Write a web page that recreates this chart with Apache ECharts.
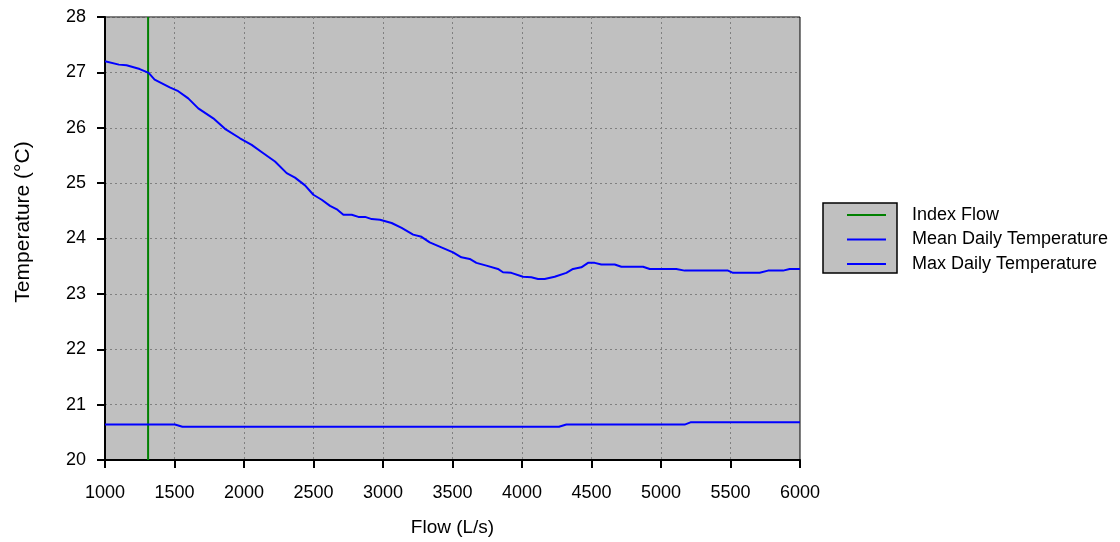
<!DOCTYPE html>
<html><head><meta charset="utf-8">
<script src="https://cdn.jsdelivr.net/npm/echarts@6/dist/echarts.min.js"></script>
<style>html,body{margin:0;padding:0;background:#fff}#c{width:1120px;height:542px}</style>
</head><body><div id="c"></div>
<script>
const indexFlow = 1310;
const meanFlow = [1000,1100,1155,1250,1314,1357,1466,1527,1599,1671,1779,1863,1971,2055,2139,2223,2307,2367,2439,2499,2559,2619,2672,2715,2775,2823,2871,2919,2978,3062,3134,3217,3277,3336,3420,3504,3564,3624,3672,3744,3827,3863,3923,4007,4067,4115,4163,4235,4319,4367,4427,4475,4523,4571,4667,4715,4871,4919,5110,5170,5482,5518,5710,5770,5878,5926,6000];
const meanTemp = [27.20,27.14,27.13,27.06,26.99,26.87,26.73,26.66,26.53,26.35,26.17,25.98,25.81,25.69,25.54,25.39,25.18,25.10,24.96,24.79,24.70,24.59,24.52,24.43,24.43,24.39,24.39,24.35,24.34,24.28,24.19,24.07,24.03,23.93,23.84,23.75,23.66,23.63,23.56,23.51,23.45,23.39,23.38,23.31,23.30,23.27,23.27,23.31,23.38,23.45,23.48,23.56,23.56,23.53,23.53,23.49,23.49,23.45,23.45,23.42,23.42,23.38,23.38,23.42,23.42,23.45,23.45];
const maxFlow = [1000,1503,1557,4266,4319,5170,5212,6000];
const maxTemp = [20.64,20.64,20.60,20.60,20.64,20.64,20.68,20.68];
const seriesNames = ['Index Flow','Mean Daily Temperature','Max Daily Temperature'];

const font = 'Arial, "Liberation Sans", sans-serif';
const chart = echarts.init(document.getElementById('c'));
const axisCommon = {
  axisLine:{show:true,lineStyle:{color:'#000',width:2}},
  axisTick:{show:true,inside:false,length:8,lineStyle:{color:'#000',width:2}},
  splitLine:{show:true,lineStyle:{color:'#808080',type:[2,3],width:1}},
  axisLabel:{color:'#000',fontFamily:font,fontSize:18,formatter:v=>String(v)},
  nameTextStyle:{color:'#000',fontFamily:font,fontSize:19}
};
chart.setOption({
  animation:false,
  grid:{left:105,right:320,top:17,bottom:80,show:true,backgroundColor:'#c0c0c0',borderColor:'#000',borderWidth:1},
  xAxis:Object.assign({},axisCommon,{type:'value',min:1000,max:6000,interval:500,name:'Flow (L/s)',nameLocation:'middle',nameGap:58,
    axisLabel:Object.assign({},axisCommon.axisLabel,{margin:24})}),
  yAxis:Object.assign({},axisCommon,{type:'value',min:20,max:28,interval:1,name:'Temperature (°C)',nameLocation:'middle',nameGap:71,
    nameTextStyle:Object.assign({},axisCommon.nameTextStyle,{fontSize:21,padding:[0,0,0,33]}),
    axisLabel:Object.assign({},axisCommon.axisLabel,{margin:19})}),
  legend:{orient:'vertical',left:842,top:201,itemWidth:39,itemHeight:12,itemGap:6.5,z:10,
    icon:'path://M0,5L39,5L39,7L0,7Z',
    textStyle:{color:'#000',fontFamily:font,fontSize:18,padding:[0,0,0,21]},
    data:seriesNames},
  graphic:[{type:'rect',z:1,shape:{x:823,y:203,width:74,height:70},style:{fill:'#c0c0c0',stroke:'#000',lineWidth:1.5}}],
  series:[
    {name:seriesNames[0],type:'line',showSymbol:false,lineStyle:{color:'#008000',width:2},itemStyle:{color:'#008000'},data:[[indexFlow,20],[indexFlow,28]]},
    {name:seriesNames[1],type:'line',showSymbol:false,lineStyle:{color:'#0000ff',width:2},itemStyle:{color:'#0000ff'},data:meanFlow.map((f,i)=>[f,meanTemp[i]])},
    {name:seriesNames[2],type:'line',showSymbol:false,lineStyle:{color:'#0000ff',width:2},itemStyle:{color:'#0000ff'},data:maxFlow.map((f,i)=>[f,maxTemp[i]])}
  ]
});
</script></body></html>
